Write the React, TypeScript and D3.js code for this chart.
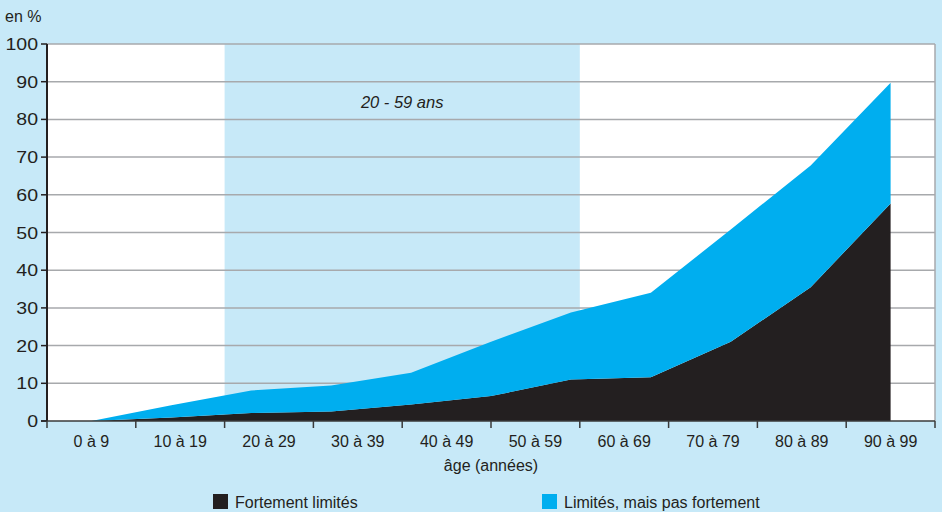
import React from "react";
import * as d3 from "d3";

const categories = ["0 à 9", "10 à 19", "20 à 29", "30 à 39", "40 à 49", "50 à 59", "60 à 69", "70 à 79", "80 à 89", "90 à 99"];
const categoryBounds = [0, 10, 20, 30, 40, 50, 60, 70, 80, 90, 100];
const sampleAges = [5, 14, 23, 32, 41, 50, 59, 68, 77, 86, 95];
const fortement = [0, 0.9, 2.1, 2.5, 4.4, 6.6, 11.0, 11.6, 21.0, 35.5, 57.7];
const limites = [0, 3.3, 6.0, 6.9, 8.4, 14.4, 17.8, 22.4, 29.8, 32.3, 32.0];
const yTicks = [0, 10, 20, 30, 40, 50, 60, 70, 80, 90, 100];
const bandRange = [20, 60];
const bandLabel = "20 - 59 ans";
const seriesNames = ["Fortement limités", "Limités, mais pas fortement"];

const W = 942, H = 512;
const M = { left: 47, right: 935, top: 44, bottom: 421 };
const BG = "#c7e9f8";
const BLUE = "#00aeef";
const BLACK = "#231f20";
const GRID = "#a7a9ac";
const FONT = "'Liberation Sans', Arial, sans-serif";

export default function App() {
  const x = d3.scaleLinear().domain([0, 100]).range([M.left, M.right]);
  const y = d3.scaleLinear().domain([0, 100]).range([M.bottom, M.top]);
  const rows = sampleAges.map((a, i) => ({ age: a, f: fortement[i], l: limites[i] }));
  const stack = d3.stack<any>().keys(["f", "l"]);
  const series = stack(rows);
  const area = d3
    .area<any>()
    .x((d) => x(d.data.age))
    .y0((d) => y(d[0]))
    .y1((d) => y(d[1]));
  const colors = [BLACK, BLUE];
  const catCenter = (i: number) => x((categoryBounds[i] + categoryBounds[i + 1]) / 2);

  return (
    <svg width={W} height={H} style={{ position: "absolute", left: 0, top: 0, display: "block" }} fontFamily={FONT}>
      <rect x={0} y={0} width={W} height={H} fill={BG} />
      <rect x={M.left} y={M.top} width={M.right - M.left} height={M.bottom - M.top} fill="#ffffff" />
      <rect x={x(bandRange[0])} y={M.top} width={x(bandRange[1]) - x(bandRange[0])} height={M.bottom - M.top} fill={BG} />
      {yTicks.filter((t) => t > 0).map((t) => (
        <line key={t} x1={M.left} x2={M.right} y1={y(t)} y2={y(t)} stroke={GRID} strokeWidth={1.5} />
      ))}
      <line x1={M.right} x2={M.right} y1={M.top} y2={M.bottom} stroke={GRID} strokeWidth={1.5} />
      <text x={x((bandRange[0] + bandRange[1]) / 2)} y={108} textAnchor="middle" fontSize={16.5} fontStyle="italic" fill={BLACK}>
        {bandLabel}
      </text>
      {series.map((s, i) => (
        <path key={i} d={area(s as any) || ""} fill={colors[i]} />
      ))}
      <line x1={M.left} x2={M.left} y1={M.top} y2={M.bottom} stroke={BLACK} strokeWidth={2} />
      <line x1={M.left - 6} x2={M.right} y1={M.bottom} y2={M.bottom} stroke={"#3a3a3a"} strokeWidth={1.6} />
      {yTicks.map((t) => (
        <g key={t}>
          <line x1={M.left - 6} x2={M.left} y1={y(t)} y2={y(t)} stroke={BLACK} strokeWidth={1.5} />
          <text transform={`translate(38,${y(t) + 6}) scale(1.22,1.05)`} textAnchor="end" fontSize={16} fill={BLACK}>{t}</text>
        </g>
      ))}
      {categoryBounds.map((b) => (
        <line key={b} x1={x(b)} x2={x(b)} y1={M.bottom} y2={M.bottom + 7} stroke={"#3a3a3a"} strokeWidth={1.5} />
      ))}
      {categories.map((c, i) => (
        <text key={c} x={catCenter(i)} y={447} textAnchor="middle" fontSize={16} fill={BLACK}>{c}</text>
      ))}
      <text x={(M.left + M.right) / 2} y={471} textAnchor="middle" fontSize={16} fill={BLACK}>âge (années)</text>
      <text x={5} y={22} fontSize={16} fill={BLACK}>en %</text>
      <rect x={213} y={494} width={15} height={15} fill={BLACK} />
      <text x={235} y={508} fontSize={16} fill={BLACK}>{seriesNames[0]}</text>
      <rect x={542} y={494} width={15} height={15} fill={BLUE} />
      <text x={564} y={508} fontSize={16} fill={BLACK}>{seriesNames[1]}</text>
    </svg>
  );
}
